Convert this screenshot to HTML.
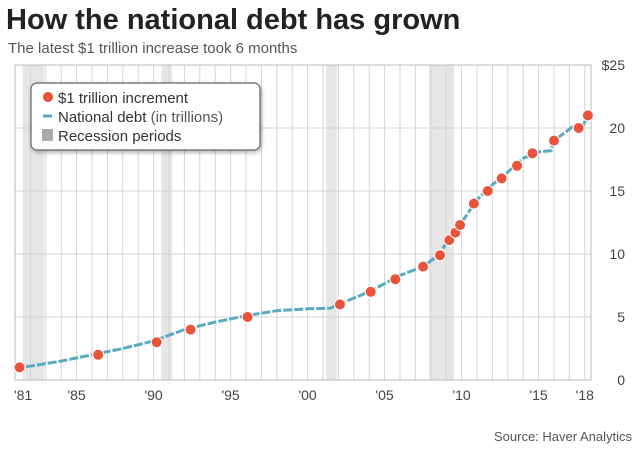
<!DOCTYPE html>
<html><head><meta charset="utf-8"><style>
body{margin:0;background:#fff;width:640px;height:447px;overflow:hidden;font-family:"Liberation Sans",sans-serif}
</style></head><body>
<svg width="640" height="447" xmlns="http://www.w3.org/2000/svg">
<text x="6" y="29" font-size="29" font-weight="bold" fill="#222">How the national debt has grown</text>
<text x="8" y="53" font-size="15" fill="#555">The latest $1 trillion increase took 6 months</text>
<g id="rec"></g><g id="grid"></g><g id="axes"></g><g id="series"></g>
<g>
<rect x="31" y="83" width="229" height="67" rx="6" fill="#fff" stroke="#666" stroke-width="1.2" style="filter:drop-shadow(1px 2px 2px rgba(0,0,0,.3))"/>
<circle cx="48" cy="97" r="5" fill="#e8533a"/><text x="58" y="103" font-size="15" fill="#333">$1 trillion increment</text>
<line x1="43" y1="116" x2="52" y2="116" stroke="#5aabc0" stroke-width="3"/><text x="58" y="122" font-size="15" fill="#333">National debt <tspan fill="#555">(in trillions)</tspan></text>
<rect x="42" y="129" width="11" height="12" fill="#aaa"/><text x="58" y="141" font-size="15" fill="#333">Recession periods</text>
</g>
<text x="632" y="441" font-size="13" fill="#555" text-anchor="end">Source: Haver Analytics</text>
</svg>
<script>
const yTicks=[0,5,10,15,20,25];
const yTickLabels=["0","5","10","15","20","$25"];
const xTickYears=[1981,1985,1990,1995,2000,2005,2010,2015,2018];
const xTickLabels=["'81","'85","'90","'95","'00","'05","'10","'15","'18"];
const recessionStarts=[1981.5,1990.5,2001.2,2007.9];
const recessionEnds=[1982.9,1991.2,2001.9,2009.5];
const debtYears=[1981,1982,1984,1986,1988,1990,1992,1994,1996,1998,2000,2001.5,2002,2004,2006,2007.5,2008.5,2009.5,2010,2011,2012,2013,2014,2015,2015.8,2016,2017,2017.3,2017.8,2018,2018.3];
const debtValues=[0.95,1.1,1.5,2.0,2.5,3.1,4.0,4.6,5.1,5.5,5.65,5.7,6.0,7.0,8.3,9.0,9.9,11.8,12.5,14.3,15.5,16.5,17.6,18.1,18.2,19.0,19.9,20.2,19.9,20.5,21.0];
const dotYears=[1981.3,1986.4,1990.2,1992.4,1996.1,2002.1,2004.1,2005.7,2007.5,2008.6,2009.2,2009.6,2009.9,2010.8,2011.7,2012.6,2013.6,2014.6,2016.0,2017.6,2018.2];
const dotValues=[1,2,3,4,5,6,7,8,9,9.9,11.1,11.7,12.3,14,15,16,17,18,19,20,21];
const NS='http://www.w3.org/2000/svg';
const L=15,R=591,T=65,B=380;
const x=v=>L+(v-1981)*15.4;
const y=v=>B-(v/25)*(B-T);
function mk(t,a,p){const e=document.createElementNS(NS,t);for(const k in a)e.setAttribute(k,a[k]);document.getElementById(p).appendChild(e);return e;}
recessionStarts.forEach((s,i)=>{const r=mk('rect',{x:x(s),y:T,width:x(recessionEnds[i])-x(s),height:B-T,fill:'#e6e6e6'},'rec');

});
for(let yr=1982;yr<=2018;yr++){mk('line',{x1:x(yr),x2:x(yr),y1:T,y2:B,stroke:'#d4d4d4','stroke-width':1},'grid');}
yTicks.forEach((t,i)=>{mk('line',{x1:L,x2:R,y1:y(t),y2:y(t),stroke:'#d4d4d4','stroke-width':1},'grid');
const tx=mk('text',{x:625,y:y(t)+5,'font-size':14,fill:'#444','text-anchor':'end'},'axes');tx.textContent=yTickLabels[i];

});
mk('rect',{x:L,y:T,width:R-L,height:B-T,fill:'none',stroke:'#bbb','stroke-width':1},'axes');
xTickYears.forEach((yr,i)=>{const tx=mk('text',{x:x(yr)+(i==0?-1:0),y:400,'font-size':14,fill:'#444','text-anchor':i==0?'start':'middle'},'axes');tx.textContent=xTickLabels[i];

});
const line=mk('polyline',{points:debtYears.map((d,i)=>x(d)+','+y(debtValues[i])).join(' '),fill:'none',stroke:'#5aabc0','stroke-width':3,'stroke-dasharray':'9 2'},'series');


dotYears.forEach((d,i)=>{const c=mk('circle',{cx:x(d),cy:y(dotValues[i]),r:5.5,fill:'#e8533a',stroke:'#fff','stroke-width':1},'series');

});
</script>
</body></html>
